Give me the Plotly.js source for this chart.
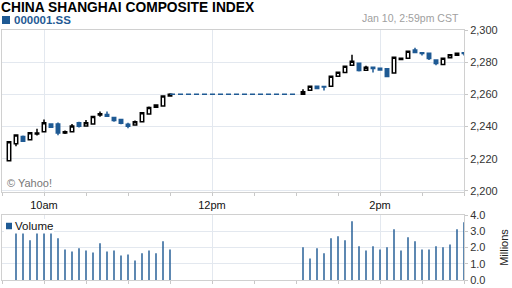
<!DOCTYPE html>
<html><head><meta charset="utf-8">
<script src="https://cdn.plot.ly/plotly-3.0.1.min.js"></script>
<style>html,body{margin:0;padding:0;background:#fff}#chart{width:512px;height:288px}</style>
</head><body><div id="chart"></div><script>
const DAY = '2012-01-10 ';
const times = ['09:35','09:40','09:45','09:50','09:55','10:00','10:05','10:10','10:15','10:20','10:25','10:30',
  '10:35','10:40','10:45','10:50','10:55','11:00','11:05','11:10','11:15','11:20','11:25','11:30',
  '13:05','13:10','13:15','13:20','13:25','13:30','13:35','13:40','13:45','13:50','13:55','14:00',
  '14:05','14:10','14:15','14:20','14:25','14:30','14:35','14:40','14:45','14:50','14:55','15:00'];
const opens  = [2218.8,2229.3,2233.8,2231.8,2235.4,2236.7,2241.6,2241.6,2235.9,2236.7,2242.3,2240.4,
  2241.6,2247.2,2247.4,2245.6,2244.3,2241.4,2241.0,2242.9,2247.8,2252.0,2252.8,2258.9,
  2260.1,2262.6,2265.1,2264.9,2265.1,2271.3,2273.6,2278.1,2279.4,2275.0,2276.9,2276.3,
  2275.9,2273.2,2281.7,2282.5,2287.5,2285.8,2285.6,2281.4,2278.6,2282.7,2284.3,2285.8];
const highs  = [2230.5,2234.8,2234.4,2236.1,2238.6,2244.3,2241.6,2242.5,2237.5,2241.6,2242.9,2244.1,
  2246.2,2249.3,2249.3,2246.0,2244.7,2242.3,2243.7,2248.5,2252.4,2253.4,2259.0,2260.7,
  2263.2,2265.1,2265.1,2265.3,2271.3,2273.8,2277.5,2284.6,2279.4,2277.7,2276.9,2276.5,
  2275.9,2283.1,2282.5,2286.8,2288.9,2285.8,2285.6,2281.4,2282.5,2284.6,2285.6,2285.8];
const lows   = [2218.8,2227.8,2230.9,2231.8,2234.4,2236.7,2239.6,2234.6,2235.3,2236.7,2239.4,2240.4,
  2241.6,2246.0,2246.4,2242.9,2241.4,2239.0,2241.0,2242.9,2247.8,2252.0,2252.8,2258.9,
  2260.1,2262.6,2263.6,2262.4,2265.1,2271.3,2273.6,2278.1,2274.2,2275.0,2273.6,2274.6,
  2271.1,2273.2,2281.7,2282.5,2286.0,2284.1,2281.4,2278.1,2278.1,2282.7,2284.3,2284.1];
const closes = [2230.5,2234.8,2230.9,2236.1,2236.0,2242.3,2239.6,2235.9,2236.7,2240.4,2240.2,2242.3,
  2246.2,2248.0,2246.4,2243.7,2242.1,2240.2,2242.9,2248.5,2251.8,2253.4,2259.0,2260.0,
  2261.6,2265.1,2263.6,2264.5,2271.3,2273.8,2277.5,2280.6,2274.8,2276.9,2276.1,2275.2,
  2271.1,2283.1,2282.5,2286.8,2286.0,2285.4,2282.3,2279.2,2282.5,2284.6,2285.6,2285.4];
const volumes = [null,3.3,3.6,2.44,3.2,3.4,3.1,2.57,1.88,1.76,1.95,1.82,
  1.70,2.26,1.76,1.82,1.51,1.57,1.20,1.64,1.82,1.64,2.38,1.88,
  2.01,1.32,1.95,1.64,2.57,2.69,2.44,3.62,2.07,1.82,2.07,1.88,
  2.01,3.13,1.82,2.63,2.38,1.88,1.88,2.07,2.01,2.19,3.13,3.56];
const lunchBreak = ['11:30','13:00'];
const priceTicks = [2200,2220,2240,2260,2280,2300];
const volTicks = [0,1,2,3,4];
const timeTicks = ['10:00','12:00','14:00'];
const timeTickText = ['10am','12pm','2pm'];

const BLUE = '#1f5a94';
const X = times.map(t => DAY + t);
const lastMorning = closes[times.indexOf('11:30')];

const traces = [
  {type:'candlestick', x:X, open:opens, high:highs, low:lows, close:closes, xaxis:'x', yaxis:'y',
   increasing:{line:{color:'#000', width:1.5}, fillcolor:'#fff'},
   decreasing:{line:{color:BLUE, width:1.5}, fillcolor:BLUE}, hoverinfo:'skip'},
  {type:'scatter', mode:'lines', x:lunchBreak.map(t=>DAY+t), y:[lastMorning,lastMorning],
   line:{color:BLUE, width:1.5, dash:'5px,3px'}, xaxis:'x', yaxis:'y', hoverinfo:'skip'},
  {type:'bar', x:X, y:volumes, width:62000, marker:{color:BLUE, line:{width:0}}, xaxis:'x2', yaxis:'y2', hoverinfo:'skip'}
];

const gridc = '#e3e8ef', linec = '#d0d0d0', tickc = '#c8c8c8';
const xcommon = {type:'date', range:[DAY+'09:30', DAY+'15:00'], tickvals:timeTicks.map(t=>DAY+t),
  ticks:'outside', ticklen:3, tickcolor:tickc, showgrid:true, gridcolor:gridc, gridwidth:1,
  showline:true, linecolor:linec, mirror:true, zeroline:false, fixedrange:true,
  minor:{dtick:1800000, tick0:DAY+'09:30', ticks:'outside', ticklen:3, tickcolor:tickc, showgrid:false}};

const layout = {
  width:512, height:288, margin:{l:2, r:48, t:30, b:8},
  paper_bgcolor:'#fff', plot_bgcolor:'#fff', showlegend:false,
  font:{family:'"Liberation Sans", Arial, sans-serif', size:11, color:'#222'},
  title:{text:'<b>CHINA SHANGHAI COMPOSITE INDEX</b>', x:0.002, xanchor:'left', xref:'container',
    y:0.992, yanchor:'top', yref:'container', font:{size:13.8, color:'#000', family:'"Liberation Sans", Arial, sans-serif'}},
  xaxis:Object.assign({}, xcommon, {anchor:'y', ticktext:timeTickText, showticklabels:true,
    tickfont:{size:11, color:'#111'}, rangeslider:{visible:false}}),
  xaxis2:Object.assign({}, xcommon, {anchor:'y2', matches:'x', showticklabels:false}),
  yaxis:{domain:[0.352,1], range:[2199.3,2300], side:'right', tickvals:priceTicks, tickformat:',d',
    ticks:'outside', ticklen:3, tickcolor:tickc, gridcolor:gridc, showline:true, linecolor:linec,
    mirror:true, zeroline:false, fixedrange:true, tickfont:{size:11, color:'#333'}},
  yaxis2:{domain:[0,0.26], range:[0,4], side:'right', tickvals:volTicks, tickformat:'.1f',
    ticks:'outside', ticklen:3, tickcolor:tickc, gridcolor:gridc, showline:true, linecolor:linec,
    mirror:true, zeroline:false, fixedrange:true, tickfont:{size:11, color:'#333'},
    title:{text:'Millions', font:{size:11, color:'#222'}, standoff:15}},
  shapes:[
    {type:'rect', xref:'paper', yref:'paper', x0:0, x1:0.0173, y0:1.024, y1:1.056, fillcolor:BLUE, line:{width:0}},
    {type:'rect', xref:'paper', yref:'paper', x0:0.0043, x1:0.1126, y0:0.186, y1:0.244, fillcolor:'#fff', line:{width:0}, layer:'above'},
    {type:'rect', xref:'paper', yref:'paper', x0:0.0087, x1:0.0217, y0:0.203, y1:0.229, fillcolor:BLUE, line:{width:0}, layer:'above'}
  ],
  annotations:[
    {xref:'paper', yref:'paper', x:0.022, y:1.04, xanchor:'left', yanchor:'middle', showarrow:false,
     text:'<b>000001.SS</b>', font:{size:11.5, color:BLUE}},
    {xref:'paper', yref:'paper', x:0.993, y:1.048, xanchor:'right', yanchor:'middle', showarrow:false,
     text:'Jan 10, 2:59pm CST', font:{size:10.5, color:'#a0a0a0'}},
    {xref:'paper', yref:'paper', x:0.007, y:0.388, xanchor:'left', yanchor:'middle', showarrow:false,
     text:'© Yahoo!', font:{size:11, color:'#777'}},
    {xref:'paper', yref:'paper', x:0.024, y:0.216, xanchor:'left', yanchor:'middle', showarrow:false,
     text:'Volume', font:{size:11.5, color:'#111'}}
  ]
};

Plotly.newPlot('chart', traces, layout, {staticPlot:true, displayModeBar:false});
</script></body></html>
